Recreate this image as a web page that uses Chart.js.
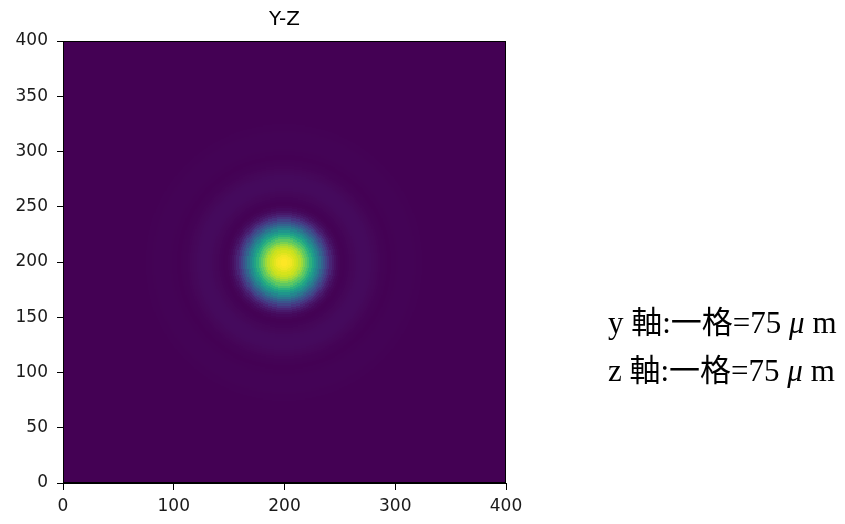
<!DOCTYPE html>
<html>
<head>
<meta charset="utf-8">
<script src="https://cdn.jsdelivr.net/npm/chart.js@4/dist/chart.umd.min.js"></script>
<style>
  html, body { margin: 0; padding: 0; background: #fff; }
  #wrap { position: relative; width: 845px; height: 524px; }
  .note {
    position: absolute; left: 608px; height: 40px; line-height: 40px;
    font-family: "Liberation Serif", "Noto Sans CJK TC", serif;
    font-size: 31px; color: #000; white-space: nowrap;
  }
  .note i { font-style: italic; }
</style>
</head>
<body>
<div id="wrap">
  <canvas id="c" width="845" height="524"></canvas>
  <div class="note" style="top:303px">y 軸:一格=75 <i>μ</i> m</div>
  <div class="note" style="top:351px">z 軸:一格=75 <i>μ</i> m</div>
</div>
<script>
// Axis ticks
const tickY = [0, 100, 200, 300, 400];          // horizontal axis (y)
const tickZ = [0, 50, 100, 150, 200, 250, 300, 350, 400]; // vertical axis (z)

// Beam centre in grid units
const centerY = 200;
const centerZ = 200;

// Normalised intensity sampled every 2 grid units outward from the centre
const radialStep = 2;
const radialIntensity = [
  1.00, 1.00, 0.99, 0.98, 0.96, 0.94, 0.92, 0.89, 0.85, 0.80,
  0.75, 0.70, 0.64, 0.58, 0.52, 0.46, 0.39, 0.32, 0.26, 0.20,
  0.15, 0.10, 0.065, 0.04, 0.022, 0.010, 0.004, 0.003, 0.005, 0.008,
  0.012, 0.015, 0.018, 0.021, 0.023, 0.024, 0.024, 0.024, 0.023, 0.021,
  0.018, 0.015, 0.012, 0.009, 0.006, 0.004, 0.002, 0.001, 0.001, 0.002,
  0.003, 0.004, 0.005, 0.005, 0.006, 0.006, 0.006, 0.005, 0.005, 0.004,
  0.003, 0.002, 0.002, 0.001, 0.001, 0.001
];
const backgroundIntensity = 0;

// Grid extent and cell size
const gridMax = 400;
const cellSize = 1;

// Build the cell table from the radial profile
const cells = [];
for (let y = cellSize / 2; y < gridMax; y += cellSize) {
  for (let z = cellSize / 2; z < gridMax; z += cellSize) {
    const r = Math.hypot(y - centerY, z - centerZ);
    const idx = Math.round(r / radialStep);
    const v = idx < radialIntensity.length ? radialIntensity[idx] : backgroundIntensity;
    cells.push({ x: y, y: z, v: v });
  }
}

// Viridis colour map
const viridisStops = [
  '#440154', '#481a6c', '#472f7d', '#414487', '#39568c', '#31688e',
  '#2a788e', '#23888e', '#1f988b', '#22a884', '#35b779', '#54c568',
  '#7ad151', '#a5db36', '#d2e21b', '#fde725'
].map(h => [parseInt(h.slice(1, 3), 16), parseInt(h.slice(3, 5), 16), parseInt(h.slice(5, 7), 16)]);

const colourCache = new Map();
function viridis(t) {
  if (colourCache.has(t)) return colourCache.get(t);
  const c = Math.max(0, Math.min(1, t));
  const f = c * (viridisStops.length - 1);
  const i = Math.min(Math.floor(f), viridisStops.length - 2);
  const u = f - i;
  const a = viridisStops[i], b = viridisStops[i + 1];
  const s = 'rgb(' + Math.round(a[0] + (b[0] - a[0]) * u) + ',' +
    Math.round(a[1] + (b[1] - a[1]) * u) + ',' +
    Math.round(a[2] + (b[2] - a[2]) * u) + ')';
  colourCache.set(t, s);
  return s;
}

// Draws each cell as a filled rectangle positioned via the chart scales
const heatmapPlugin = {
  id: 'heatmap',
  beforeDatasetsDraw(chart) {
    const { ctx, chartArea, scales } = chart;
    const xs = scales.x, ys = scales.y;
    const half = cellSize / 2;
    ctx.save();
    ctx.beginPath();
    ctx.rect(chartArea.left, chartArea.top, chartArea.right - chartArea.left, chartArea.bottom - chartArea.top);
    ctx.clip();
    chart.data.datasets[0].data.forEach(c => {
      const l = Math.floor(xs.getPixelForValue(c.x - half));
      const r = Math.ceil(xs.getPixelForValue(c.x + half));
      const t = Math.floor(ys.getPixelForValue(c.y + half));
      const b = Math.ceil(ys.getPixelForValue(c.y - half));
      ctx.fillStyle = viridis(c.v);
      ctx.fillRect(l, t, r - l, b - t);
    });
    ctx.restore();
  },
  afterDatasetsDraw(chart) {
    const { ctx, chartArea } = chart;
    ctx.save();
    ctx.strokeStyle = '#000';
    ctx.lineWidth = 1;
    ctx.strokeRect(Math.round(chartArea.left) + 0.5, Math.round(chartArea.top) + 0.5,
      Math.round(chartArea.right - chartArea.left) - 1, Math.round(chartArea.bottom - chartArea.top) - 1);
    ctx.restore();
  }
};

const tickFont = { family: 'DejaVu Sans', size: 17 };

new Chart(document.getElementById('c'), {
  type: 'scatter',
  data: {
    datasets: [{ data: cells, pointRadius: 0, pointHoverRadius: 0 }]
  },
  options: {
    responsive: false,
    animation: false,
    events: [],
    layout: { padding: { left: 0, right: 339, top: 0, bottom: 0 } },
    plugins: {
      legend: { display: false },
      tooltip: { enabled: false },
      title: {
        display: true,
        text: 'Y-Z',
        fullSize: false,
        color: '#000',
        font: { family: 'DejaVu Sans', size: 20, weight: 'normal' },
        padding: { top: 8, bottom: 9 }
      }
    },
    scales: {
      x: {
        type: 'linear', min: 0, max: gridMax,
        afterBuildTicks: s => { s.ticks = tickY.map(v => ({ value: v })); },
        afterFit: s => { s.height = 41; },
        grid: { drawOnChartArea: false, tickLength: 7, tickColor: '#000', tickWidth: 1 },
        border: { display: true, color: '#000', width: 1 },
        ticks: { font: tickFont, color: '#1a1a1a', padding: 6, maxRotation: 0, autoSkip: false }
      },
      y: {
        type: 'linear', min: 0, max: gridMax,
        afterBuildTicks: s => { s.ticks = tickZ.map(v => ({ value: v })); },
        afterFit: s => { s.width = 63; },
        grid: { drawOnChartArea: false, tickLength: 6, tickColor: '#000', tickWidth: 1 },
        border: { display: true, color: '#000', width: 1 },
        ticks: { font: tickFont, color: '#1a1a1a', padding: 9, autoSkip: false }
      }
    }
  },
  plugins: [heatmapPlugin]
});
</script>
</body>
</html>
